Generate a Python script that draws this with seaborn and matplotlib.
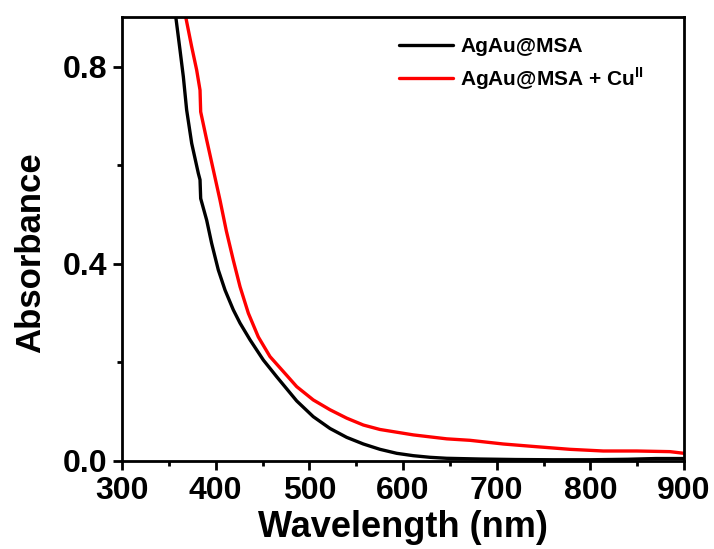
import numpy as np
import pandas as pd
import matplotlib
matplotlib.use("Agg")
import matplotlib.pyplot as plt
import seaborn as sns
from matplotlib.ticker import MultipleLocator, FormatStrFormatter

# Data
wl_black = [353, 357.6, 361.9, 365.5, 369.0, 374.4, 381.5, 383.3, 384.0, 390.4, 395.7,
            402.8, 410.0, 418.8, 426.0, 436.7, 450.9, 465.2, 486.5, 504.2, 522.1, 539.9,
            557.7, 575.4, 593.3, 611.0, 628.8, 646.6, 682.2, 720, 760, 800, 840, 870, 900]
abs_black = [0.98, 0.899, 0.835, 0.780, 0.713, 0.645, 0.584, 0.571, 0.533, 0.489, 0.442,
             0.388, 0.347, 0.307, 0.280, 0.246, 0.205, 0.171, 0.122, 0.090, 0.066, 0.048,
             0.0345, 0.0237, 0.0156, 0.0108, 0.0075, 0.0055, 0.004, 0.003, 0.0025, 0.0025,
             0.0035, 0.005, 0.005]

wl_red = [362, 368.3, 374.4, 379.7, 383.3, 384.0, 390.4, 397.5, 404.6, 411.4, 418.8,
          426.0, 434.9, 445.5, 458.0, 475.8, 486.5, 504.2, 522.1, 539.9, 557.7, 575.4,
          611.0, 646.6, 671.5, 707.1, 742.7, 778.3, 813.8, 849.4, 885.0, 900]
abs_red = [0.96, 0.899, 0.841, 0.794, 0.753, 0.709, 0.652, 0.591, 0.530, 0.467, 0.408,
           0.354, 0.300, 0.252, 0.212, 0.174, 0.151, 0.124, 0.104, 0.087, 0.073, 0.064,
           0.053, 0.045, 0.042, 0.0345, 0.029, 0.0237, 0.0203, 0.0203, 0.019, 0.0156]

labels = ["AgAu@MSA", r"AgAu@MSA + Cu$^{\mathbf{II}}$"]
colors = ["black", "#ff0000"]

df = pd.concat([
    pd.DataFrame({"Wavelength": wl_black, "Absorbance": abs_black, "Sample": labels[0]}),
    pd.DataFrame({"Wavelength": wl_red, "Absorbance": abs_red, "Sample": labels[1]}),
], ignore_index=True)

sns.set_theme(style="ticks")
plt.rcParams["font.family"] = ["Liberation Sans", "DejaVu Sans"]
plt.rcParams["font.weight"] = "bold"
plt.rcParams["text.color"] = "black"
plt.rcParams["axes.labelcolor"] = "black"
plt.rcParams["xtick.color"] = "black"
plt.rcParams["ytick.color"] = "black"
plt.rcParams["mathtext.fontset"] = "custom"
plt.rcParams["mathtext.bf"] = "Liberation Sans:bold"
plt.rcParams["mathtext.rm"] = "Liberation Sans:bold"

fig = plt.figure(figsize=(7.14, 5.49), dpi=100)
ax = fig.add_axes([122/714, 1-461/549, (684-122)/714, (461-17)/549])

sns.lineplot(data=df, x="Wavelength", y="Absorbance", hue="Sample",
             palette=dict(zip(labels, colors)), sort=False, estimator=None,
             linewidth=2.4, ax=ax)

ax.set_xlim(300, 900)
ax.set_ylim(0, 0.9015)
ax.xaxis.set_major_locator(MultipleLocator(100))
ax.xaxis.set_minor_locator(MultipleLocator(50))
ax.yaxis.set_major_locator(MultipleLocator(0.4))
ax.yaxis.set_minor_locator(MultipleLocator(0.2))
ax.yaxis.set_major_formatter(FormatStrFormatter("%.1f"))

for s in ax.spines.values():
    s.set_linewidth(2.0)
    s.set_color("black")
ax.tick_params(axis="both", which="major", direction="out", length=6.5, width=2,
               labelsize=23, pad=4, colors="black")
ax.tick_params(axis="both", which="minor", direction="out", length=3.5, width=2)
ax.tick_params(top=False, right=False, which="both")
for t in ax.get_xticklabels() + ax.get_yticklabels():
    t.set_fontweight("bold")

ax.set_xlabel("Wavelength (nm)", fontsize=26, fontweight="bold", labelpad=3, color="black")
ax.set_ylabel("Absorbance", fontsize=25, fontweight="bold", color="black")
ax.yaxis.set_label_coords(-0.1325, 0.47)

leg = ax.legend(loc="upper left", bbox_to_anchor=(399/714, 1-37/549),
                bbox_transform=fig.transFigure, frameon=False,
                prop={"size": 15, "weight": "bold"}, handlelength=2.6,
                handletextpad=0.35, labelspacing=0.45, borderpad=0, borderaxespad=0)
for line in leg.get_lines():
    line.set_linewidth(2.4)

fig.savefig("out.png", dpi=100)
